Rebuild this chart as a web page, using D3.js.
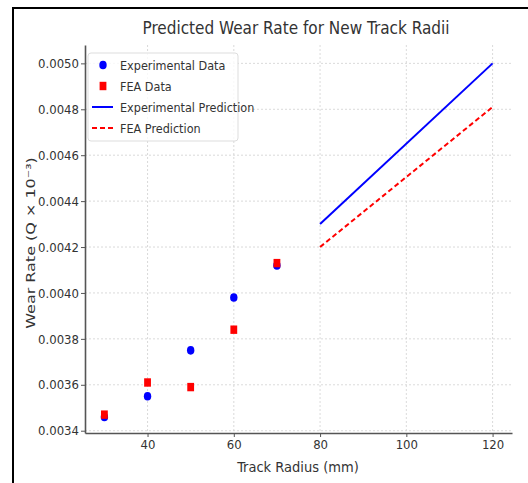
<!DOCTYPE html>
<html>
<head>
<meta charset="utf-8">
<script src="https://cdn.jsdelivr.net/npm/d3@7"></script>
<style>
  body { margin: 0; background: #fff; }
  svg { display: block; }
  text { font-family: "DejaVu Sans Condensed", "DejaVu Sans", sans-serif; }
</style>
</head>
<body>
<svg class="figure" width="528" height="483"></svg>
<script>
var radii = [30, 40, 50, 60, 70];
var expData = [0.00346, 0.00355, 0.00375, 0.00398, 0.00412];
var feaData = [0.00347, 0.00361, 0.00359, 0.00384, 0.00413];
var predRadii = [80, 120];
var expPred = [0.00430, 0.00500];
var feaPred = [0.00420, 0.00481];
var xTicks = [40, 60, 80, 100, 120];
var yTicks = [0.0034, 0.0036, 0.0038, 0.0040, 0.0042, 0.0044, 0.0046, 0.0048, 0.0050];
var legendLabels = ["Experimental Data", "FEA Data", "Experimental Prediction", "FEA Prediction"];

var svg = d3.select("svg.figure");
var plotLeft = 85, plotRight = 512, plotTop = 45, plotBottom = 433;

var x = d3.scaleLinear().domain([25.5, 124.5]).range([plotLeft, plotRight]);
var y = d3.scaleLinear().domain([0.00339, 0.00508]).range([plotBottom, plotTop]);

// frame around the picture
svg.append("path")
.attr("d", "M13,483 L13,8 L528,8")
.attr("fill", "none")
.attr("stroke", "#000")
.attr("stroke-width", 2);

// grid
svg.append("g")
.selectAll("line")
.data(xTicks)
.enter()
.append("line")
.attr("x1", function(d) { return x(d); })
.attr("x2", function(d) { return x(d); })
.attr("y1", plotTop)
.attr("y2", plotBottom)
.attr("stroke", "#d0d0d0")
.attr("stroke-width", 0.8)
.attr("stroke-dasharray", "2,2");

svg.append("g")
.selectAll("line")
.data(yTicks)
.enter()
.append("line")
.attr("x1", plotLeft)
.attr("x2", plotRight)
.attr("y1", function(d) { return y(d); })
.attr("y2", function(d) { return y(d); })
.attr("stroke", "#d0d0d0")
.attr("stroke-width", 0.8)
.attr("stroke-dasharray", "2,2");

// axes
var xAxis = svg.append("g")
.attr("transform", "translate(0," + plotBottom + ")")
.call(d3.axisBottom(x).tickValues(xTicks).tickSize(4).tickPadding(3).tickSizeOuter(0));

var yAxis = svg.append("g")
.attr("transform", "translate(" + plotLeft + ",0)")
.call(d3.axisLeft(y).tickValues(yTicks).tickFormat(d3.format(".4f")).tickSize(4).tickPadding(2).tickSizeOuter(0));

[xAxis, yAxis].forEach(function(a) {
  a.select(".domain").attr("stroke", "#555").attr("stroke-width", 1.6);
  a.selectAll(".tick line").attr("stroke", "#555").attr("stroke-width", 1);
  a.selectAll(".tick text")
  .attr("fill", "#333")
  .style("font-size", "13px")
  .style("font-family", "'DejaVu Sans Condensed', 'DejaVu Sans', sans-serif");
});

// prediction lines
var line = d3.line()
.x(function(d) { return x(d[0]); })
.y(function(d) { return y(d[1]); });

svg.append("path")
.datum(d3.zip(predRadii, expPred))
.attr("d", line)
.attr("fill", "none")
.attr("stroke", "#0000ff")
.attr("stroke-width", 2);

svg.append("path")
.datum(d3.zip(predRadii, feaPred))
.attr("d", line)
.attr("fill", "none")
.attr("stroke", "#ff0000")
.attr("stroke-width", 2)
.attr("stroke-dasharray", "5,3");

// data points
svg.append("g")
.selectAll("ellipse")
.data(d3.zip(radii, expData))
.enter()
.append("ellipse")
.attr("cx", function(d) { return x(d[0]); })
.attr("cy", function(d) { return y(d[1]); })
.attr("rx", 3.7)
.attr("ry", 4.3)
.attr("fill", "#0000ff");

svg.append("g")
.selectAll("rect")
.data(d3.zip(radii, feaData))
.enter()
.append("rect")
.attr("x", function(d) { return x(d[0]) - 3.4; })
.attr("y", function(d) { return y(d[1]) - 4.2; })
.attr("width", 6.8)
.attr("height", 8.4)
.attr("fill", "#ff0000");

// title and labels
svg.append("text")
.attr("x", 296)
.attr("y", 34)
.attr("text-anchor", "middle")
.attr("fill", "#333")
.style("font-size", "17px")
.text("Predicted Wear Rate for New Track Radii");

svg.append("text")
.attr("x", 298)
.attr("y", 472)
.attr("text-anchor", "middle")
.attr("fill", "#333")
.style("font-size", "14.5px")
.text("Track Radius (mm)");

// glyphs squeezed sideways like the reference
svg.append("text")
.attr("transform", "translate(35,243) rotate(-90) scale(1,0.8)")
.attr("text-anchor", "middle")
.attr("fill", "#333")
.style("font-family", "'DejaVu Sans', sans-serif")
.style("font-size", "16px")
.text("Wear Rate (Q × 10⁻³)");

// legend
var legend = svg.append("g").attr("transform", "translate(88,53)");

legend.append("rect")
.attr("width", 150)
.attr("height", 88)
.attr("rx", 3)
.attr("fill", "#fff")
.attr("fill-opacity", 0.8)
.attr("stroke", "#ddd")
.attr("stroke-width", 1);

var rows = legend.selectAll("g.row")
.data(legendLabels)
.enter()
.append("g")
.attr("class", "row")
.attr("transform", function(d, i) { return "translate(0," + (12 + i * 21) + ")"; });

rows.append("text")
.attr("x", 32)
.attr("y", 4.5)
.attr("fill", "#333")
.style("font-size", "12.5px")
.text(function(d) { return d; });

legend.append("ellipse").attr("cx", 15).attr("cy", 12).attr("rx", 3.7).attr("ry", 4.3).attr("fill", "#0000ff");
legend.append("rect").attr("x", 11.6).attr("y", 33 - 4.2).attr("width", 6.8).attr("height", 8.4).attr("fill", "#ff0000");
legend.append("line").attr("x1", 4).attr("x2", 25).attr("y1", 54).attr("y2", 54).attr("stroke", "#0000ff").attr("stroke-width", 2);
legend.append("line").attr("x1", 4).attr("x2", 25).attr("y1", 75).attr("y2", 75).attr("stroke", "#ff0000").attr("stroke-width", 2).attr("stroke-dasharray", "5,3");
</script>
</body>
</html>
